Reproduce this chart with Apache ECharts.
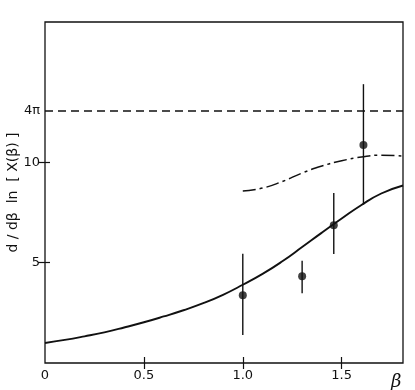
<!DOCTYPE html>
<html>
<head>
<meta charset="utf-8">
<script src="https://cdn.jsdelivr.net/npm/echarts@6/dist/echarts.min.js"></script>
<style>html,body{margin:0;padding:0;background:#fff;}#c{width:415px;height:390px;}</style>
</head>
<body>
<div id="c"></div>
<script>
// ---- data ----
const xMin = 0, xMax = 1.81, yMin = 0, yMax = 17;
const xTickValues = [0, 0.5, 1.0, 1.5];
const xTickLabels = ['0', '0.5', '1.0', '1.5'];
const yTickValues = [5, 10];
const yLabelValues = [5, 10, 4 * Math.PI];
const yLabelTexts = ['5', '10', '4π'];

const solidBeta = [0, 0.1, 0.2, 0.3, 0.4, 0.5, 0.6, 0.7, 0.8, 0.9, 1.0, 1.1, 1.2, 1.3, 1.4, 1.5, 1.6, 1.7, 1.81];
const solidVals = [1.0, 1.15, 1.33, 1.53, 1.77, 2.03, 2.32, 2.63, 2.98, 3.4, 3.9, 4.44, 5.07, 5.78, 6.5, 7.2, 7.88, 8.45, 8.85];

const dashDotBeta = [1.0, 1.1, 1.2, 1.3, 1.4, 1.5, 1.6, 1.7, 1.81];
const dashDotVals = [8.57, 8.72, 9.05, 9.47, 9.82, 10.08, 10.27, 10.36, 10.32];

const limitBeta = [0, 1.81];
const limitVals = [4 * Math.PI, 4 * Math.PI];

const pointBeta = [1.0, 1.3, 1.46, 1.61];
const pointVals = [3.38, 4.32, 6.87, 10.87];
const errLow = [1.4, 3.48, 5.43, 7.9];
const errHigh = [5.45, 5.1, 8.48, 13.9];

// ---- chart ----
const zip = (a, b) => a.map((v, i) => [v, b[i]]);
const ink = '#111';
const font = 'DejaVu Sans';

const chart = echarts.init(document.getElementById('c'), null, {renderer: 'canvas'});
chart.setOption({
  animation: false,
  backgroundColor: '#fff',
  grid: {left: 45, right: 12, top: 22, bottom: 27, containLabel: false, outerBoundsMode: 'none',
    show: true, borderColor: ink, borderWidth: 1.3, backgroundColor: 'transparent'},
  xAxis: [{
    type: 'value', min: xMin, max: xMax, position: 'bottom',
    splitLine: {show: false},
    axisLine: {show: false},
    axisTick: {show: true, inside: true, length: 6, lineStyle: {color: ink, width: 1.2}, customValues: [0.5, 1.0, 1.5]},
    axisLabel: {color: ink, fontFamily: font, fontSize: 13, margin: 6, customValues: xTickValues,
      formatter: v => { const i = xTickValues.findIndex(t => Math.abs(t - v) < 1e-6); return i >= 0 ? xTickLabels[i] : ''; }}
  }, {
    type: 'value', min: xMin, max: xMax, position: 'top',
    splitLine: {show: false}, axisLine: {show: false},
    axisTick: {show: true, inside: true, length: 6, lineStyle: {color: ink, width: 1.2}, customValues: [0.5, 1.0, 1.5]},
    axisLabel: {show: false}
  }],
  yAxis: [{
    type: 'value', min: yMin, max: yMax, position: 'left',
    splitLine: {show: false}, axisLine: {show: false},
    axisTick: {show: true, inside: true, length: 5, lineStyle: {color: ink, width: 1.2}, customValues: yTickValues},
    axisLabel: {color: ink, fontFamily: font, fontSize: 13, margin: 5, customValues: yLabelValues,
      formatter: v => { const i = yLabelValues.findIndex(t => Math.abs(t - v) < 1e-6); return i >= 0 ? yLabelTexts[i] : ''; }},
    name: 'd / dβ  ln  [ X(β) ]', nameLocation: 'middle', nameGap: 25, nameRotate: 90, nameMoveOverlap: false,
    nameTextStyle: {color: ink, fontFamily: font, fontSize: 14}
  }, {
    type: 'value', min: yMin, max: yMax, position: 'right',
    splitLine: {show: false}, axisLine: {show: false},
    axisTick: {show: true, inside: true, length: 7, lineStyle: {color: ink, width: 1.2}, customValues: yTickValues},
    axisLabel: {show: false}
  }],
  graphic: [{
    type: 'text', left: 391, top: 373,
    style: {text: 'β', fill: ink, font: 'italic 18px "DejaVu Serif"'}
  }],
  series: [
    {type: 'line', data: zip(limitBeta, limitVals), showSymbol: false, lineStyle: {color: ink, width: 1.4, type: [8, 5]}, z: 3},
    {type: 'line', data: zip(solidBeta, solidVals), smooth: 0.5, showSymbol: false, lineStyle: {color: ink, width: 1.9}, z: 3},
    {type: 'line', data: zip(dashDotBeta, dashDotVals), smooth: 0.5, showSymbol: false, lineStyle: {color: ink, width: 1.5, type: [13, 4, 3, 4]}, z: 3},
    {type: 'custom', z: 4,
      data: pointBeta.map((b, i) => [b, errLow[i], errHigh[i]]),
      renderItem: (params, api) => {
        const p1 = api.coord([api.value(0), api.value(1)]);
        const p2 = api.coord([api.value(0), api.value(2)]);
        return {type: 'line', shape: {x1: p1[0], y1: p1[1], x2: p2[0], y2: p2[1]}, style: {stroke: ink, lineWidth: 1.4}};
      }},
    {type: 'scatter', data: zip(pointBeta, pointVals), symbol: 'circle', symbolSize: 8, itemStyle: {color: ink}, z: 5}
  ]
});
</script>
</body>
</html>
